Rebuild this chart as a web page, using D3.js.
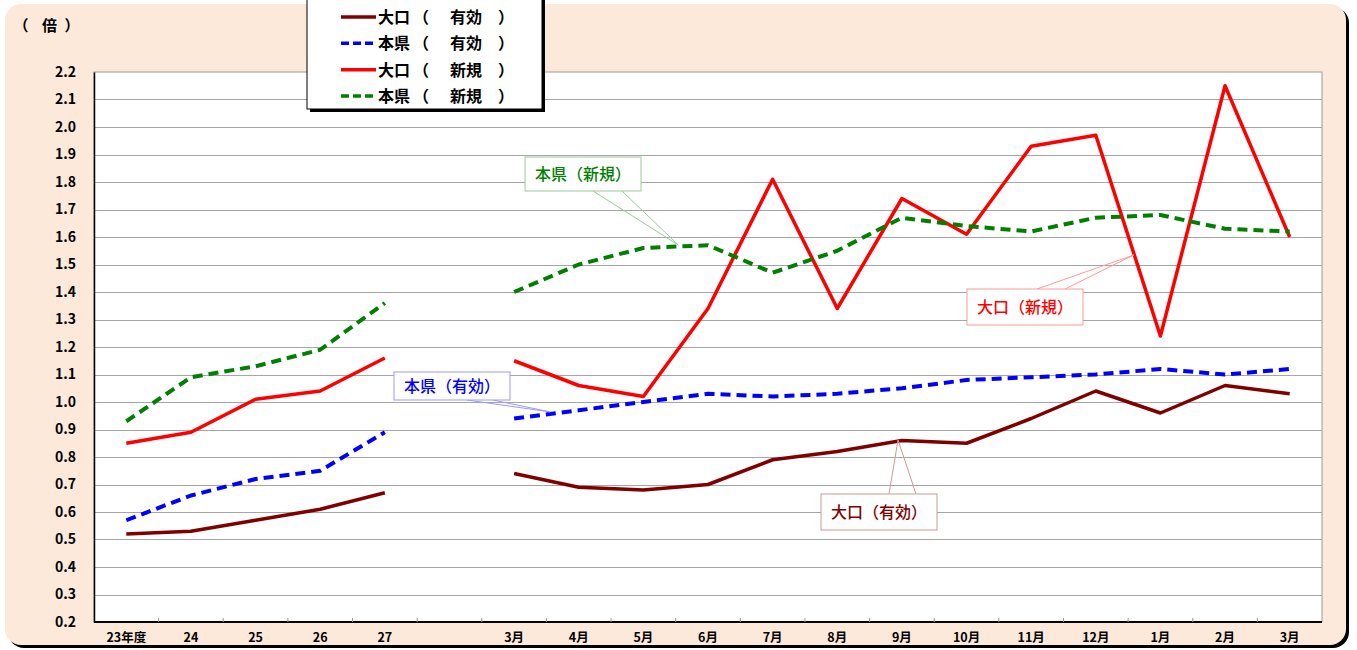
<!DOCTYPE html>
<html lang="ja">
<head>
<meta charset="utf-8">
<title>有効求人倍率</title>
<script src="https://cdn.jsdelivr.net/npm/d3@7"></script>
<style>
  body { margin: 0; background: #fff; }
  text { font-family: "Liberation Sans Narrow", "Noto Sans CJK JP", sans-serif; }
</style>
</head>
<body>
<script>
// categories (blank slot between annual and monthly values)
var categories = ["23年度", "24", "25", "26", "27", "", "3月", "4月", "5月", "6月", "7月", "8月", "9月", "10月", "11月", "12月", "1月", "2月", "3月"];
var yTicks = [0.2, 0.3, 0.4, 0.5, 0.6, 0.7, 0.8, 0.9, 1.0, 1.1, 1.2, 1.3, 1.4, 1.5, 1.6, 1.7, 1.8, 1.9, 2.0, 2.1, 2.2];

var oguchiYuko = [0.52, 0.53, 0.57, 0.61, 0.67, null, 0.74, 0.69, 0.68, 0.70, 0.79, 0.82, 0.86, 0.85, 0.94, 1.04, 0.96, 1.06, 1.03];
var honkenYuko = [0.57, 0.66, 0.72, 0.75, 0.89, null, 0.94, 0.97, 1.00, 1.03, 1.02, 1.03, 1.05, 1.08, 1.09, 1.10, 1.12, 1.10, 1.12];
var oguchiShinki = [0.85, 0.89, 1.01, 1.04, 1.16, null, 1.15, 1.06, 1.02, 1.34, 1.81, 1.34, 1.74, 1.61, 1.93, 1.97, 1.24, 2.15, 1.60];
var honkenShinki = [0.93, 1.09, 1.13, 1.19, 1.36, null, 1.40, 1.50, 1.56, 1.57, 1.47, 1.55, 1.67, 1.64, 1.62, 1.67, 1.68, 1.63, 1.62];

var seriesArea = ["大口", "本県", "大口", "本県"];
var seriesKind = ["有効", "有効", "新規", "新規"];

var w = 1357, h = 650;
var plotL = 94, plotR = 1322, plotT = 72, plotB = 622;

var svg = d3.select("body").append("svg")
  .attr("width", w)
  .attr("height", h);

// background panel with shadow
svg.append("rect").attr("x", 8).attr("y", 7).attr("width", 1341).attr("height", 641)
  .attr("rx", 16).attr("fill", "#000");
svg.append("rect").attr("x", 5).attr("y", 4).attr("width", 1341).attr("height", 641)
  .attr("rx", 16).attr("fill", "#fde9d9");

var xScale = d3.scaleBand().domain(d3.range(categories.length)).range([plotL, plotR]);
var yScale = d3.scaleLinear().domain([0.2, 2.2]).range([plotB, plotT]);
function cx(i) { return xScale(i) + xScale.bandwidth() / 2; }

// plot area
svg.append("rect").attr("x", plotL).attr("y", plotT).attr("width", plotR - plotL).attr("height", plotB - plotT)
  .attr("fill", "#fff").attr("stroke", "#999").attr("stroke-width", 1);

// gridlines
svg.selectAll(".grid")
  .data(yTicks.slice(1, -1))
  .enter().append("line")
  .attr("x1", plotL).attr("x2", plotR)
  .attr("y1", function(d) { return Math.round(yScale(d)) + 0.5; })
  .attr("y2", function(d) { return Math.round(yScale(d)) + 0.5; })
  .attr("stroke", "#a6a6a6").attr("stroke-width", 1);

// y axis
var yAxis = d3.axisLeft(yScale).tickValues(yTicks).tickSize(0).tickPadding(18)
  .tickFormat(d3.format(".1f"));
var gy = svg.append("g").attr("transform", "translate(" + plotL + ",0)").call(yAxis);
gy.select(".domain").attr("stroke", "#000").attr("stroke-width", 1.5);
gy.selectAll("text").attr("font-size", "14px").attr("font-weight", "bold").attr("fill", "#000")
  .attr("font-family", "Liberation Sans Narrow, sans-serif");

// x axis
var gx = svg.append("g").attr("transform", "translate(0," + plotB + ")");
gx.append("line").attr("x1", plotL).attr("x2", plotR).attr("y1", 0).attr("y2", 0)
  .attr("stroke", "#000").attr("stroke-width", 2);
gx.selectAll(".tick")
  .data(d3.range(1, categories.length))
  .enter().append("line")
  .attr("x1", function(d) { return xScale(d); })
  .attr("x2", function(d) { return xScale(d); })
  .attr("y1", -4).attr("y2", 0)
  .attr("stroke", "#999");
gx.selectAll(".lbl")
  .data(categories)
  .enter().append("text")
  .attr("x", function(d, i) { return cx(i); })
  .attr("y", 20)
  .attr("text-anchor", "middle")
  .attr("font-size", "12.5px").attr("font-weight", "bold")
  .text(function(d) { return d; });

// unit label "( 倍 )"
var unit = svg.append("g").attr("font-size", "15px").attr("font-weight", "bold")
  .attr("font-family", "Noto Sans CJK JP");
unit.append("text").attr("x", 21).attr("y", 31).attr("text-anchor", "middle").text("（");
unit.append("text").attr("x", 42).attr("y", 31).text("倍");
unit.append("text").attr("x", 72).attr("y", 31).attr("text-anchor", "middle").text("）");

// lines
var styles = [
  { data: oguchiYuko, color: "#800000", dash: null, width: 3.5 },
  { data: honkenYuko, color: "#0000ff", dash: "10,6", width: 4 },
  { data: oguchiShinki, color: "#ff0000", dash: null, width: 3.5 },
  { data: honkenShinki, color: "#008000", dash: "10,6", width: 4 }
];

var line = d3.line()
  .defined(function(d) { return d !== null; })
  .x(function(d, i) { return cx(i); })
  .y(function(d) { return yScale(d); });

styles.forEach(function(s) {
  svg.append("path")
    .attr("d", line(s.data))
    .attr("fill", "none")
    .attr("stroke", s.color)
    .attr("stroke-width", s.width)
    .attr("stroke-dasharray", s.dash)
    .attr("stroke-linejoin", "round");
});

// callouts: box position, text colour, border colour, tip at fractional category index
var callouts = [
  { text: "本県（新規）", x: 525, y: 157, w: 116, h: 34, color: "#008000", border: "#99cc99", tip: [8.54, 1.571], a: 593, b: 622, up: false },
  { text: "本県（有効）", x: 394, y: 372, w: 116, h: 28, color: "#0000ff", border: "#9999ff", tip: [6.556, 0.964], a: 467, b: 493, up: false },
  { text: "大口（有効）", x: 821, y: 494, w: 116, h: 36, color: "#800000", border: "#cc9999", tip: [11.94, 0.862], a: 889, b: 916, up: true },
  { text: "大口（新規）", x: 967, y: 289, w: 116, h: 36, color: "#ff0000", border: "#ff9999", tip: [15.59, 1.535], a: 1037, b: 1065, up: true }
];

callouts.forEach(function(c) {
  var tx = xScale(0) + (c.tip[0] + 0.5) * xScale.bandwidth();
  var ty = yScale(c.tip[1]);
  var by = c.up ? c.y : c.y + c.h;
  [c.a, c.b].forEach(function(bx) {
    svg.append("line").attr("x1", bx).attr("y1", by).attr("x2", tx).attr("y2", ty)
      .attr("stroke", c.border).attr("stroke-width", 1);
  });
  svg.append("rect").attr("x", c.x).attr("y", c.y).attr("width", c.w).attr("height", c.h)
    .attr("fill", "#fff").attr("stroke", c.border).attr("stroke-width", 1);
  svg.append("text").attr("x", c.x + c.w / 2).attr("y", c.y + c.h / 2 + 6)
    .attr("text-anchor", "middle").attr("font-size", "16px")
    .attr("font-family", "Noto Sans CJK JP").attr("font-weight", 500)
    .attr("fill", c.color).text(c.text);
});

// legend
var lg = svg.append("g");
lg.append("rect").attr("x", 310).attr("y", 0).attr("width", 235).attr("height", 112).attr("fill", "#000");
lg.append("rect").attr("x", 307).attr("y", -3).attr("width", 235).attr("height", 112)
  .attr("fill", "#fff").attr("stroke", "#000").attr("stroke-width", 1);
var legendY = d3.scalePoint().domain(d3.range(4)).range([17, 96]);
styles.forEach(function(s, i) {
  var y = legendY(i);
  lg.append("line").attr("x1", 341).attr("x2", 376).attr("y1", y).attr("y2", y)
    .attr("stroke", s.color).attr("stroke-width", 3.5)
    .attr("stroke-dasharray", s.dash ? "8,4" : null);
  var t = lg.append("g").attr("font-size", "16px").attr("font-weight", "bold")
    .attr("font-family", "Noto Sans CJK JP");
  t.append("text").attr("x", 378).attr("y", y + 6).text(seriesArea[i]);
  t.append("text").attr("x", 421).attr("y", y + 6).attr("text-anchor", "middle").text("（");
  t.append("text").attr("x", 450).attr("y", y + 6).text(seriesKind[i]);
  t.append("text").attr("x", 506).attr("y", y + 6).attr("text-anchor", "middle").text("）");
});
</script>
</body>
</html>
